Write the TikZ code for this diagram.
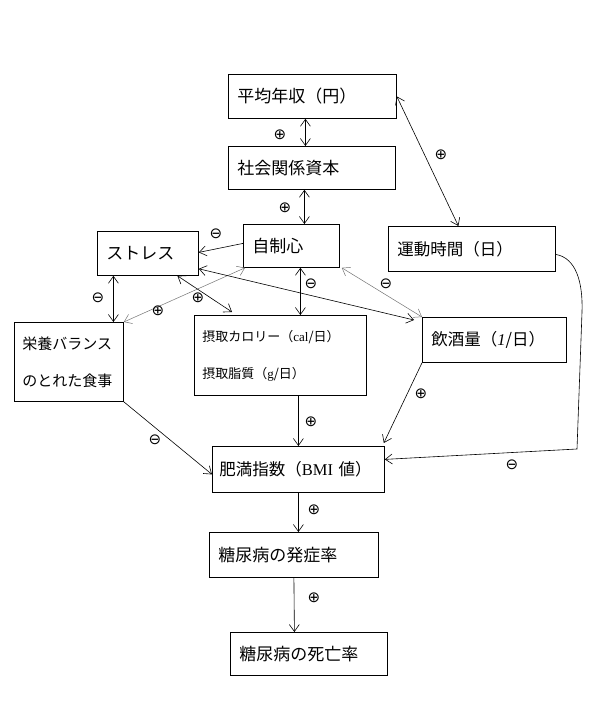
\documentclass[tikz,border=0pt]{standalone}
\usepackage{fontspec}
\setmainfont{Liberation Serif}
\newfontfamily\jp{Noto Sans CJK JP}
\newfontfamily\symf{DejaVu Sans}
\usetikzlibrary{arrows.meta}
\tikzset{
  box/.style={draw, line width=0.8pt, anchor=north west, inner xsep=9pt, inner ysep=0pt,
    align=left, font=\jp\fontsize{17}{20}\selectfont},
  con/.style={line width=0.6pt},
  gcon/.style={line width=0.5pt, draw=black!55},
  sg/.style={inner sep=0pt, font=\symf\fontsize{15}{15}\selectfont},
  >={Straight Barb[length=7pt,width=10pt]}
}
\begin{document}
\begin{tikzpicture}[x=1pt,y=-1pt]
\useasboundingbox (0,0) rectangle (593,706);
% boxes
\node[box, minimum width=168, minimum height=44, text width=150] (inc) at (228,74) {平均年収（円）};
\node[box, minimum width=167, minimum height=43, text width=149] (soc) at (228,146) {社会関係資本};
\node[box, minimum width=96, minimum height=43, text width=78] (self) at (243,224) {自制心};
\node[box, minimum width=101, minimum height=44, text width=83] (str) at (97,231) {ストレス};
\node[box, minimum width=167, minimum height=45, text width=149, font=\jp\fontsize{16.5}{20}\selectfont] (exer) at (388,226) {運動時間（日）};
\node[box, minimum width=144, minimum height=45, text width=126, font=\jp\fontsize{16.5}{20}\selectfont] (alc) at (422,317) {飲酒量（{\rmfamily\itshape 1}/日）};
\node[box, minimum width=109, minimum height=79, text width=93, inner xsep=8pt,
  font=\jp\fontsize{15}{37}\selectfont] (nut) at (14,322) {栄養バランス\\のとれた食事};
\node[box, minimum width=172, minimum height=80, text width=156, inner xsep=8pt,
  font=\jp\fontsize{13}{37}\selectfont] (cal) at (194,315) {摂取カロリー（{\rmfamily cal}/日）\\摂取脂質（{\rmfamily g}/日）};
\node[box, minimum width=172, minimum height=46, text width=158, inner xsep=7pt,
  font=\jp\fontsize{16.5}{20}\selectfont] (bmi) at (212,446) {\mbox{肥満指数（{\rmfamily BMI} 値）}};
\node[box, minimum width=169, minimum height=45, text width=151] (onset) at (209,532) {糖尿病の発症率};
\node[box, minimum width=157, minimum height=43, text width=139] (death) at (230,632) {糖尿病の死亡率};
% connectors
\draw[con,<->] ([xshift=-7]inc.south) -- ([xshift=-6.5]soc.north);
\draw[con,<->] ([xshift=-7.5]soc.south) -- ([xshift=13]self.north);
\draw[con,<->] (inc.east) -- ([xshift=-13.5]exer.north);
\draw[con,->] ([yshift=2.5]self.west) -- ([yshift=1]str.east);
\draw[con,<->] ([xshift=-34.5]str.south) -- ([xshift=44.5]nut.north);
\draw[gcon,<->] ([xshift=2]self.south west) -- (nut.north east);
\draw[con,<->] ([xshift=29.5]str.south) -- ([xshift=38,yshift=3]cal.north west);
\draw[con,<->] ([yshift=7]str.south east) -- ([xshift=-8,yshift=-3]alc.north west);
\draw[gcon,<->] ([xshift=2]self.south east) -- (alc.north west);
\draw[con,<->] ([xshift=9]self.south) -- ([xshift=20]cal.north);
\draw[con,->] ([xshift=18]cal.south) -- (bmi.north);
\draw[con,->] (alc.south west) -- ([xshift=-1,yshift=3]bmi.north east);
\draw[con,->] (nut.south east) -- ([yshift=-5]bmi.west);
\coordinate (c1) at (582,312);
\coordinate (c2) at (577,449);
\draw[con,->] ([yshift=-5.5]exer.east) .. controls (576,258) and (583,282) .. (c1) -- (c2) -- ([yshift=10]bmi.east);
\draw[con,->] (bmi.south) -- ([xshift=4.5]onset.north);
\draw[con,->] (onset.south) -- ([xshift=-14.5]death.north);
% signs
\node[sg] (s1) at (280,135) {⊕};
\node[sg] (s2) at (285,208) {⊕};
\node[sg] (s3) at (441,155) {⊕};
\node[sg] (s4) at (216,234) {⊖};
\node[sg] (s5) at (98,298) {⊖};
\node[sg] (s6) at (158,311) {⊕};
\node[sg] (s7) at (198,298) {⊕};
\node[sg] (s8) at (386,284) {⊖};
\node[sg] (s9) at (311,284) {⊖};
\node[sg] (s10) at (311,422) {⊕};
\node[sg] (s11) at (421,394) {⊕};
\node[sg] (s12) at (155,440) {⊖};
\node[sg] (s13) at (512,465) {⊖};
\node[sg] (s14) at (314,510) {⊕};
\node[sg] (s15) at (314,598) {⊕};
\end{tikzpicture}
\end{document}
